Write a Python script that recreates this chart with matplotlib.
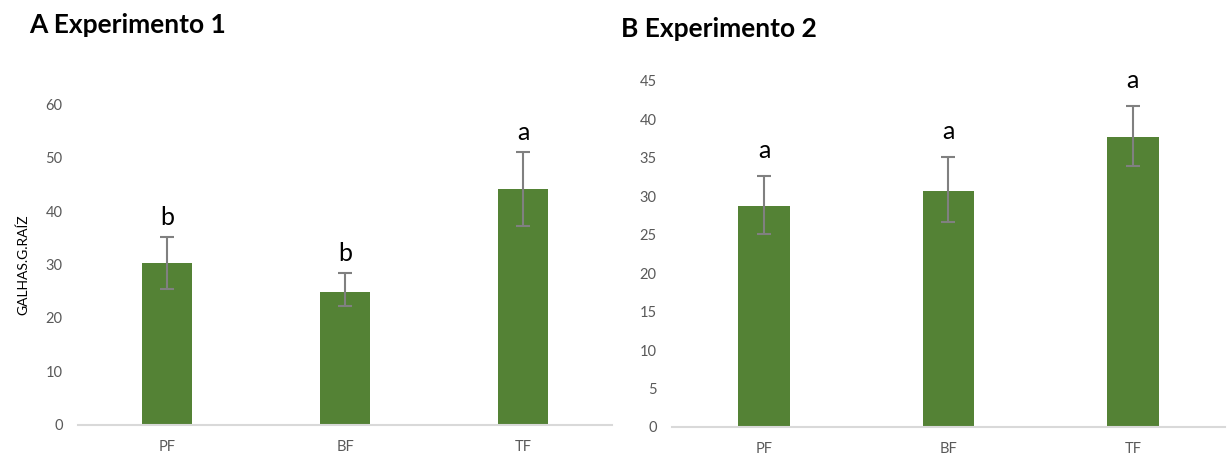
import matplotlib
matplotlib.use("Agg")
import matplotlib.pyplot as plt

plt.rcParams['font.family'] = ['Lato', 'DejaVu Sans']

categories = ["PF", "BF", "TF"]

exp1_means = [30.3, 24.9, 44.1]
exp1_err_low = [25.4, 22.2, 37.2]
exp1_err_high = [35.1, 28.4, 51.0]
exp1_letters = ["b", "b", "a"]

exp2_means = [28.7, 30.7, 37.7]
exp2_err_low = [25.1, 26.7, 33.9]
exp2_err_high = [32.6, 35.1, 41.7]
exp2_letters = ["a", "a", "a"]

BAR_COLOR = "#548235"
ERR_COLOR = "#808080"
TICK_COLOR = "#595959"
AXIS_COLOR = "#d9d9d9"

fig = plt.figure(figsize=(12.28, 4.54), dpi=100)


def draw_panel(ax, means, lo, hi, letters, ymax, step, letter_offset):
    x = list(range(len(categories)))
    yerr = [[m - l for m, l in zip(means, lo)], [h - m for m, h in zip(means, hi)]]
    ax.bar(x, means, width=0.28, color=BAR_COLOR, zorder=2)
    ax.errorbar(x, means, yerr=yerr, fmt="none", ecolor=ERR_COLOR,
                elinewidth=1.5, capsize=5, capthick=1.5, zorder=3)
    for xi, h, lab in zip(x, hi, letters):
        ax.annotate(lab, (xi, h), xytext=(0, letter_offset), textcoords="offset pixels",
                    ha="center", va="baseline", fontsize=18, color="black")
    ax.set_xlim(-0.5, len(categories) - 0.5)
    ax.set_ylim(0, ymax)
    ax.set_yticks(range(0, ymax + 1, step))
    ax.set_xticks(x)
    ax.set_xticklabels(categories)
    for s in ["top", "right", "left"]:
        ax.spines[s].set_visible(False)
    ax.spines["bottom"].set_color(AXIS_COLOR)
    ax.spines["bottom"].set_linewidth(1.5)
    ax.tick_params(axis="both", length=0, colors=TICK_COLOR, labelsize=10.5)
    ax.tick_params(axis="y", pad=11)
    ax.tick_params(axis="x", pad=11)


ax1 = fig.add_axes([0.0635, 0.0639, 0.4349, 0.707])
draw_panel(ax1, exp1_means, exp1_err_low, exp1_err_high, exp1_letters, 60, 10, 12)
ax1.set_ylabel("GALHAS.G.RAÍZ", fontsize=10, color="black", labelpad=12)

ax2 = fig.add_axes([0.5472, 0.0595, 0.4503, 0.7621])
draw_panel(ax2, exp2_means, exp2_err_low, exp2_err_high, exp2_letters, 45, 5, 18)

fig.text(29 / 1228, 1 - 25 / 454, "A Experimento 1", fontsize=19, fontweight="bold",
         ha="left", va="center")
fig.text(621 / 1228, 1 - 29 / 454, "B Experimento 2", fontsize=19, fontweight="bold",
         ha="left", va="center")

fig.savefig("out.png", dpi=100, facecolor="white")
